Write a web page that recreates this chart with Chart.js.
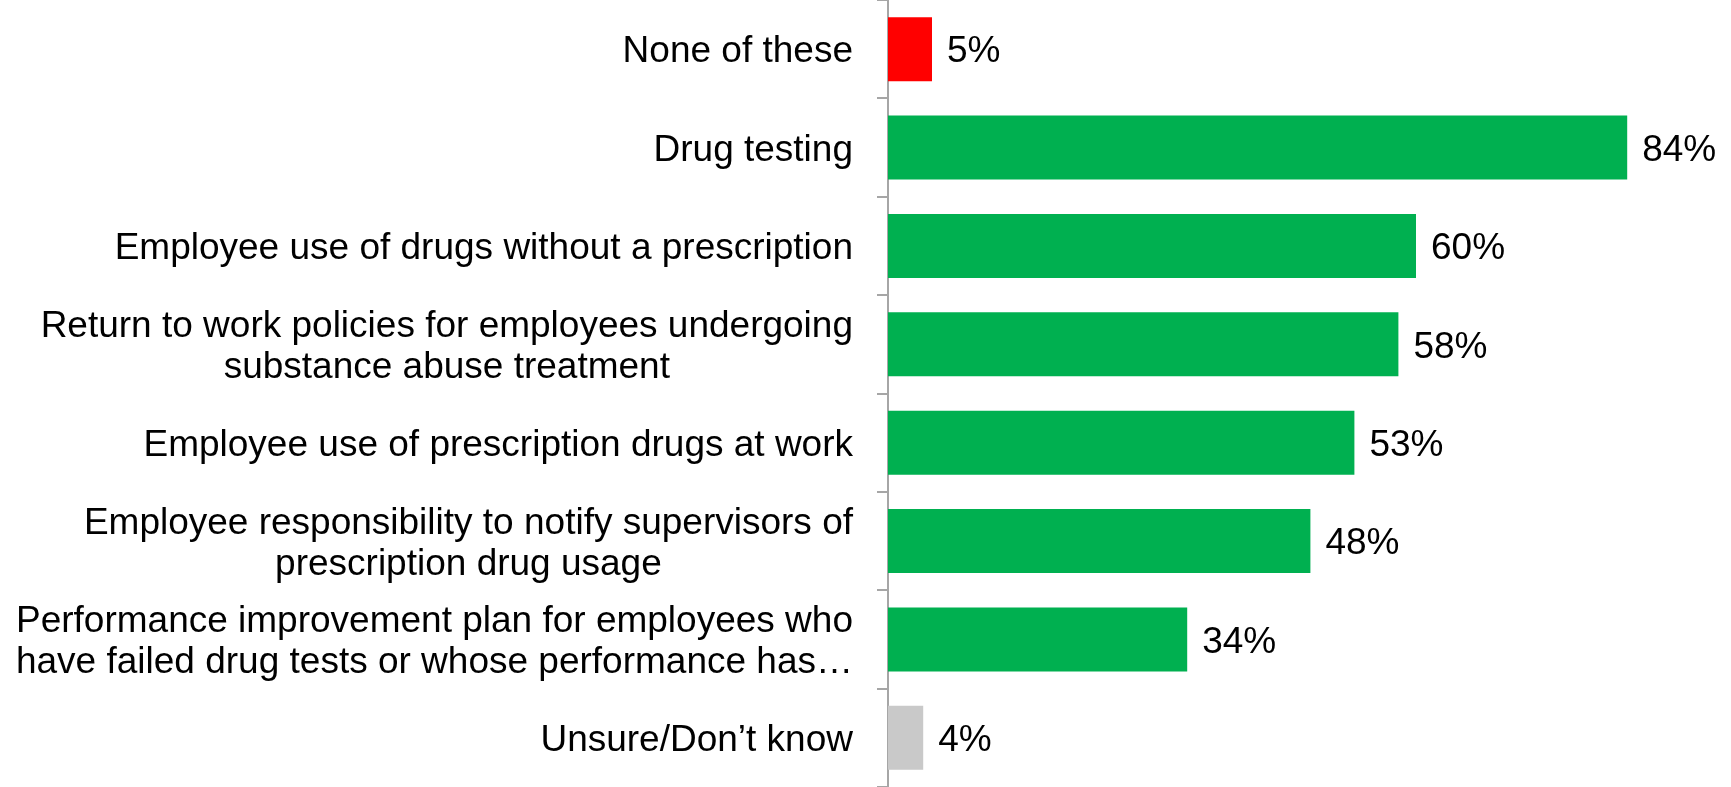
<!DOCTYPE html>
<html lang="en">

<head>
    <meta charset="UTF-8">
    <title>Drug policy components</title>
    <script src="https://cdn.jsdelivr.net/npm/chart.js"></script>
    <style>
        html, body { margin: 0; padding: 0; background: #fff; overflow: hidden; }
    </style>
</head>

<body>
    <div style="width: 1731px; height: 787px;">
        <canvas id="myChart" width="1731" height="787"></canvas>
    </div>

    <script>
        // 항목 (줄바꿈은 배열로)
        const categories = [
            ['None of these'],
            ['Drug testing'],
            ['Employee use of drugs without a prescription'],
            ['Return to work policies for employees undergoing', 'substance abuse treatment'],
            ['Employee use of prescription drugs at work'],
            ['Employee responsibility to notify supervisors of', 'prescription drug usage'],
            ['Performance improvement plan for employees who', 'have failed drug tests or whose performance has\u2026'],
            ['Unsure/Don\u2019t know']
        ];
        const percents = [5, 84, 60, 58, 53, 48, 34, 4];
        const barColors = ['#ff0000', '#00b050', '#00b050', '#00b050', '#00b050', '#00b050', '#00b050', '#c9c9c9'];

        const FONT = '37px "Liberation Sans", Arial, sans-serif';

        // 왼쪽 라벨 + 막대 끝 값 라벨을 직접 그림
        const textPlugin = {
            id: 'textPlugin',
            afterDatasetsDraw(chart) {
                const ctx = chart.ctx;
                const yScale = chart.scales.y;
                const meta = chart.getDatasetMeta(0);
                const labelRight = chart.chartArea.left - 35;
                ctx.save();
                ctx.font = FONT;
                ctx.fillStyle = '#000';
                ctx.textBaseline = 'middle';
                categories.forEach((lines, i) => {
                    const cy = yScale.getPixelForValue(i) + 3;
                    // 여러 줄이면 가운데 정렬, 블록 오른쪽 끝은 맞춤
                    const widths = lines.map(l => ctx.measureText(l).width);
                    const maxW = Math.max(...widths);
                    const centerX = labelRight - maxW / 2;
                    const lineH = 41;
                    lines.forEach((line, j) => {
                        const y = cy + (j - (lines.length - 1) / 2) * lineH;
                        ctx.textAlign = 'center';
                        ctx.fillText(line, centerX, y);
                    });
                    // 값 라벨
                    const bar = meta.data[i];
                    ctx.textAlign = 'left';
                    ctx.fillText(percents[i] + '%', bar.x + 15, cy);
                });
                ctx.restore();
            }
        };

        const ctx = document.getElementById('myChart');

        new Chart(ctx, {
            type: 'bar',
            data: {
                labels: categories,
                datasets: [{
                    data: percents,
                    backgroundColor: barColors,
                    barPercentage: 0.65,
                    categoryPercentage: 1.0
                }]
            },
            options: {
                indexAxis: 'y',
                responsive: false,
                devicePixelRatio: 1,
                animation: false,
                layout: { padding: { top: 0, right: 51, bottom: -2, left: 0 } },
                plugins: {
                    legend: { display: false },
                    tooltip: { enabled: false }
                },
                scales: {
                    x: {
                        display: false,
                        min: 0,
                        max: 90
                    },
                    y: {
                        afterFit(scale) {
                            scale.width = 888;
                            scale.paddingTop = 0;
                            scale.paddingBottom = 0;
                        },
                        grid: {
                            drawOnChartArea: false,
                            drawTicks: true,
                            tickLength: 11,
                            color: '#a6a6a6',
                            lineWidth: 2
                        },
                        border: { display: true, color: '#a6a6a6', width: 2 },
                        ticks: {
                            autoSkip: false,
                            color: 'rgba(0,0,0,0)',
                            font: { size: 1 }
                        }
                    }
                }
            },
            plugins: [textPlugin]
        });
    </script>
</body>

</html>
